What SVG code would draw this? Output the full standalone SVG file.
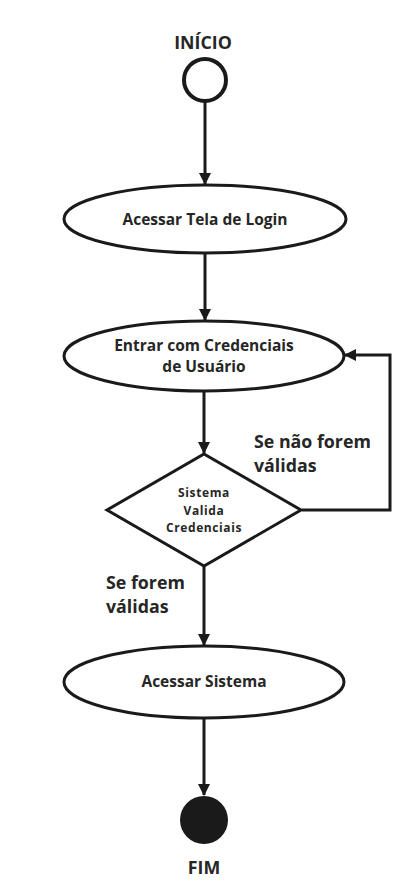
<svg xmlns="http://www.w3.org/2000/svg" width="417" height="891" viewBox="0 0 417 891">
<defs>
<marker id="arr" markerWidth="12" markerHeight="12" viewBox="0 0 12 12" refX="11" refY="6" orient="auto" markerUnits="userSpaceOnUse">
<path d="M0,0 L12,6 L0,12 Z" fill="#1a1a1a"/>
</marker>
<style>
.t{font-family:"Open Sans","Noto Sans",sans-serif;font-weight:700;fill:#262626;text-anchor:middle;dominant-baseline:central}
.s{fill:#fff;stroke:#1a1a1a;stroke-width:3}
.c{fill:none;stroke:#1a1a1a;stroke-width:3;marker-end:url(#arr)}
.l{text-anchor:start;font-size:17.8px}
.d{font-size:12px;letter-spacing:0.6px}
</style>
</defs>
<rect width="417" height="891" fill="#fff"/>
<g id="inicio">
<text class="t" x="203" y="42" font-size="17.8">INÍCIO</text>
<circle cx="205" cy="80" r="21" fill="#fff" stroke="#1a1a1a" stroke-width="4"/>
</g>
<g id="login">
<ellipse class="s" cx="205" cy="219" rx="141" ry="34"/>
<text class="t" x="205" y="219" font-size="15.5">Acessar Tela de Login</text>
</g>
<g id="credenciais">
<ellipse class="s" cx="204" cy="356" rx="140" ry="35"/>
<text class="t" x="204" y="345" font-size="15.5">Entrar com Credenciais</text>
<text class="t" x="204" y="366" font-size="15.5">de Usuário</text>
</g>
<g id="valida">
<polygon class="s" points="204,454 301,510 204,566 107,510"/>
<text class="t d" x="204" y="492">Sistema</text>
<text class="t d" x="204" y="510">Valida</text>
<text class="t d" x="204" y="527">Credenciais</text>
</g>
<g id="sistema">
<ellipse class="s" cx="204" cy="682" rx="140" ry="36"/>
<text class="t" x="204" y="681" font-size="15.5">Acessar Sistema</text>
</g>
<g id="fim">
<circle cx="204" cy="820" r="24" fill="#1a1a1a"/>
<text class="t" x="204" y="867" font-size="17.8">FIM</text>
</g>
<g id="connectors">
<line class="c" x1="205" y1="102" x2="205" y2="184"/>
<line class="c" x1="205" y1="254" x2="205" y2="320"/>
<line class="c" x1="204" y1="392" x2="204" y2="453"/>
<path class="c" d="M302,510 H390 V355 H345"/>
<line class="c" x1="204" y1="566" x2="204" y2="645"/>
<line class="c" x1="204" y1="718" x2="204" y2="795"/>
<text class="t l" x="254" y="441">Se não forem</text>
<text class="t l" x="254" y="465">válidas</text>
<text class="t l" x="106" y="582">Se forem</text>
<text class="t l" x="106" y="606">válidas</text>
</g>
</svg>
